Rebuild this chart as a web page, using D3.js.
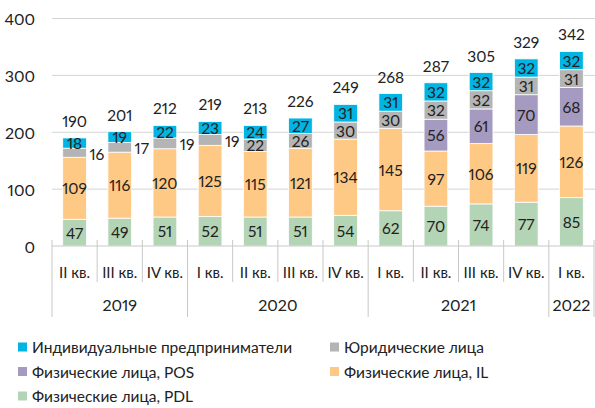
<!DOCTYPE html>
<html><head><meta charset="utf-8">
<script src="https://cdn.jsdelivr.net/npm/d3@7"></script>
<style>
html,body{margin:0;padding:0;background:#fff;}
svg{display:block;}
.num{font-family:Lato,"Noto Sans",sans-serif;fill:#222;font-variant-numeric:proportional-nums;font-feature-settings:"pnum" 1;}
.leg{font-family:Lato,"Noto Sans",sans-serif;fill:#222;}
</style></head>
<body>
<script>
const quarters = ["II кв.","III кв.","IV кв.","I кв.","II кв.","III кв.","IV кв.","I кв.","II кв.","III кв.","IV кв.","I кв."];
const years = ["2019","2019","2019","2020","2020","2020","2020","2021","2021","2021","2021","2022"];
const pdl = [47,49,51,52,51,51,54,62,70,74,77,85];
const il  = [109,116,120,125,115,121,134,145,97,106,119,126];
const pos = [0,0,0,0,0,0,0,0,56,61,70,68];
const ul  = [16,17,19,19,22,26,30,30,32,32,31,31];
const ip  = [18,19,22,23,24,27,31,31,32,32,32,32];
const totals = [190,201,212,219,213,226,249,268,287,305,329,342];
const yTicks = [0,100,200,300,400];
const seriesNames = ["Физические лица, PDL","Физические лица, IL","Физические лица, POS","Юридические лица","Индивидуальные предприниматели"];
const seriesColors = ["#b3d4b5","#fec985","#a59abf","#b4b4b4","#00b4e4"];

const W=595,H=408;
const svg=d3.select("body").append("svg").attr("width",W).attr("height",H);
const keys=["pdl","il","pos","ul","ip"];
const table=quarters.map((q,i)=>({id:i,pdl:pdl[i],il:il[i],pos:pos[i],ul:ul[i],ip:ip[i]}));
const x=d3.scaleBand().domain(d3.range(quarters.length)).range([52,594]).paddingInner(0.475).paddingOuter(0.2375);
const y=d3.scaleLinear().domain([0,400]).range([246,18.5]);

// grid
svg.append("g").selectAll("line").data(yTicks.filter(d=>d>0)).join("line")
 .attr("x1",52).attr("x2",595).attr("y1",d=>y(d)).attr("y2",d=>y(d))
 .attr("stroke","#d4d4d4").attr("stroke-width",1);
// y labels
svg.append("g").selectAll("text").data(yTicks).join("text").attr("class","num")
 .attr("x",35).attr("y",d=>y(d)).attr("text-anchor","end").attr("dominant-baseline","central")
 .attr("font-size",16).text(d=>d);

const stack=d3.stack().keys(keys)(table);
const g=svg.append("g");
stack.forEach((s,si)=>{
  g.append("g").selectAll("rect").data(s.filter(d=>d[1]-d[0]>0)).join("rect")
   .attr("x",d=>x(d.data.id)).attr("width",x.bandwidth())
   .attr("y",d=>y(d[1])).attr("height",d=>y(d[0])-y(d[1]))
   .attr("fill",seriesColors[si]).attr("stroke","#fff").attr("stroke-width",0.8);
  g.append("g").selectAll("text").data(s.filter(d=>d[1]-d[0]>0)).join("text").attr("class","num")
   .attr("font-size",15.5).attr("dominant-baseline","central")
   .attr("x",d=>{const v=d[1]-d[0]; return (keys[si]==="ul"&&v<20)? x(d.data.id)+x.bandwidth()+3 : x(d.data.id)+x.bandwidth()/2;})
   .attr("text-anchor",d=>{const v=d[1]-d[0]; return (keys[si]==="ul"&&v<20)?"start":"middle";})
   .attr("y",d=>{const v=d[1]-d[0]; return (keys[si]==="ul"&&v<20)? (y(d[0])+y(d[1]))/2+1 : (y(d[0])+y(d[1]))/2;})
   .text(d=>d[1]-d[0]);
});
// totals
svg.append("g").selectAll("text").data(totals).join("text").attr("class","num")
 .attr("font-size",15.5).attr("text-anchor","middle").attr("dominant-baseline","central")
 .attr("x",(d,i)=>x(i)+x.bandwidth()/2).attr("y",(d,i)=>y(d3.sum([pdl[i],il[i],pos[i],ul[i],ip[i]]))-17)
 .text(d=>d);

// x axis
const step=x.step();
const x0=52;
svg.append("line").attr("x1",52).attr("x2",594).attr("y1",246).attr("y2",246).attr("stroke","#c8c8c8");
const bounds=d3.range(quarters.length+1);
svg.append("g").selectAll("line").data(bounds).join("line")
 .attr("x1",i=>x0+i*step).attr("x2",i=>x0+i*step).attr("y1",240)
 .attr("y2",i=>(i===0||i===quarters.length||years[i]!==years[i-1])?317:282)
 .attr("stroke","#c8c8c8");
svg.append("g").selectAll("text").data(quarters).join("text").attr("class","num")
 .attr("font-size",15).attr("text-anchor","middle").attr("dominant-baseline","central")
 .attr("x",(d,i)=>x0+(i+0.5)*step).attr("y",272).text(d=>d);
const yearGroups=d3.groups(years.map((yv,i)=>({yv,i})),d=>d.yv);
svg.append("g").selectAll("text").data(yearGroups).join("text").attr("class","num")
 .attr("font-size",16).attr("text-anchor","middle").attr("dominant-baseline","central")
 .attr("x",d=>x0+(d3.min(d[1],e=>e.i)+d3.max(d[1],e=>e.i)+1)/2*step).attr("y",304).text(d=>d[0]);

// legend
const legOrder=[4,3,2,1,0];
const lg=svg.append("g");
legOrder.forEach((si,k)=>{
  const col=k%2,row=Math.floor(k/2);
  const lx=col===0?18:330, ly=347+row*24.5;
  lg.append("rect").attr("x",lx).attr("y",ly-4.5).attr("width",9).attr("height",9).attr("fill",seriesColors[si]);
  lg.append("text").attr("class","leg").attr("x",lx+14).attr("y",ly).attr("dominant-baseline","central")
   .attr("font-size",15.5).text(seriesNames[si]);
});
</script>
</body></html>
